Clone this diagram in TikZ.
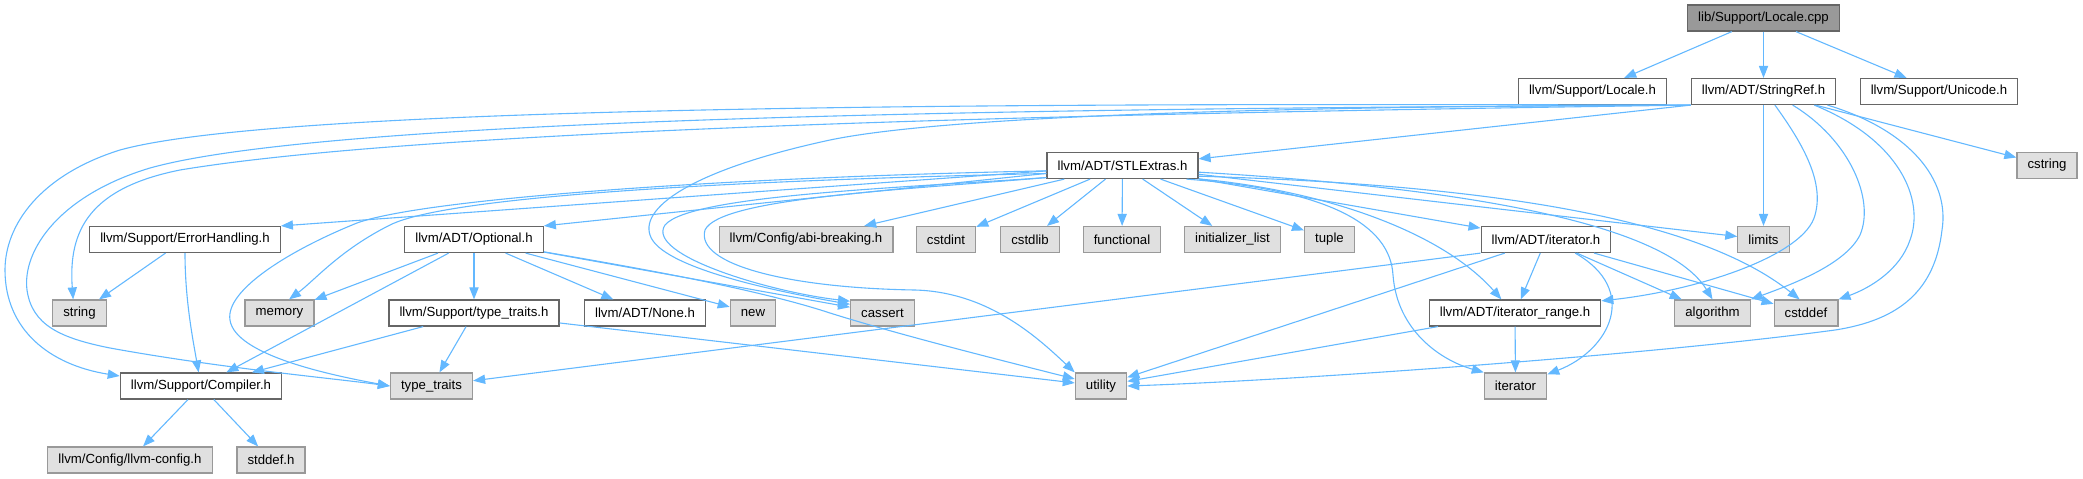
\documentclass[tikz,border=0pt]{standalone}
\usepackage{fontspec}
\setmainfont{Liberation Sans}
\usepackage{xcolor}
\usetikzlibrary{arrows.meta}
\definecolor{edgeblue}{RGB}{99, 184, 255}
\definecolor{rootgray}{RGB}{153, 153, 153}
\definecolor{sysfill}{RGB}{224, 224, 224}
\definecolor{sysborder}{RGB}{153, 153, 153}
\definecolor{hdrborder}{RGB}{102, 102, 102}

\begin{document}
\begin{tikzpicture}[x=0.5pt, y=-0.5pt, >={Triangle[length=6pt,width=4.6pt]},
  every node/.style={font=\fontsize{6.6}{7}\selectfont},
  filebox/.style={rectangle, draw=hdrborder, fill=white, line width=0.6pt, minimum height=13pt, inner xsep=5.3pt, inner ysep=0pt},
  sysbox/.style={filebox, draw=sysborder, fill=sysfill},
  rootbox/.style={filebox, fill=rootgray},
  dep/.style={->, edgeblue, line width=0.55pt}]

\useasboundingbox (0,0) rectangle (2083,478);

% Source file
\node[rootbox] (cpp) at (1763.5,18) {lib/Support/Locale.cpp};

% Direct includes
\node[filebox] (localeh) at (1592.5,91.5) {llvm/Support/Locale.h};
\node[filebox] (stringref) at (1763.5,91.5) {llvm/ADT/StringRef.h};
\node[filebox] (unicode) at (1939,91.5) {llvm/Support/Unicode.h};

% Second level
\node[filebox] (stlextras) at (1122.5,165.5) {llvm/ADT/STLExtras.h};
\node[sysbox] (cstring) at (2047,165.5) {cstring};

% Third level
\node[filebox] (errorhandling) at (185,239.5) {llvm/Support/ErrorHandling.h};
\node[filebox] (optional) at (474,239.5) {llvm/ADT/Optional.h};
\node[sysbox] (abibreaking) at (806,239.5) {llvm/Config/abi-breaking.h};
\node[sysbox] (cstdint) at (946,239.5) {cstdint};
\node[sysbox] (cstdlib) at (1030,239.5) {cstdlib};
\node[sysbox] (functional) at (1122,239.5) {functional};
\node[sysbox] (initlist) at (1232.5,239.5) {initializer\_list};
\node[sysbox] (tuple) at (1329.5,239.5) {tuple};
\node[filebox] (iteratorh) at (1546,239.5) {llvm/ADT/iterator.h};
\node[sysbox] (limits) at (1763.5,239.5) {limits};

% Fourth level
\node[sysbox] (string) at (79.5,313) {string};
\node[sysbox] (memory) at (279.5,313) {memory};
\node[filebox] (typetraitsh) at (474,313) {llvm/Support/type\_traits.h};
\node[filebox] (noneh) at (645,313) {llvm/ADT/None.h};
\node[sysbox] (new) at (753,313) {new};
\node[sysbox] (cassert) at (882.5,313) {cassert};
\node[filebox] (iterrange) at (1515,313) {llvm/ADT/iterator\_range.h};
\node[sysbox] (algorithm) at (1712.5,313) {algorithm};
\node[sysbox] (cstddef) at (1806,313) {cstddef};

% Fifth level
\node[filebox] (compiler) at (201,386) {llvm/Support/Compiler.h};
\node[sysbox] (typetraits) at (431.5,386) {type\_traits};
\node[sysbox] (utility) at (1101,386) {utility};
\node[sysbox] (iterator) at (1515.5,386) {iterator};

% Sixth level
\node[sysbox] (llvmconfig) at (130,460) {llvm/Config/llvm-config.h};
\node[sysbox] (stddef) at (271,460) {stddef.h};

% Locale.cpp includes
\foreach \dest in {localeh,stringref,unicode}
  \draw[dep] (cpp) -- (\dest);

% StringRef.h includes
\draw[dep] (stringref) -- (limits);
\draw[dep] (stringref) -- (cstring);
\draw[dep] (stringref.south west) -- (stlextras.5);
\draw[dep] (stringref.south west) .. controls (1200,104) and (300,100) .. (120,150) .. controls (40,175) and (5,225) .. (5,270) .. controls (5,330) and (50,365) .. (compiler.173);
\draw[dep] (stringref.south west) .. controls (1200,108) and (350,112) .. (150,168) .. controls (60,195) and (22,250) .. (27,290) .. controls (32,325) and (60,338) .. (110,348) .. controls (220,368) and (330,378) .. (typetraits.west);
\draw[dep] (stringref.south west) .. controls (1200,112) and (450,125) .. (180,170) .. controls (90,188) and (68,230) .. (string.115);
\draw[dep] (stringref.south west) .. controls (1300,106) and (950,115) .. (830,140) .. controls (700,168) and (640,205) .. (650,235) .. controls (660,268) and (780,292) .. (cassert.165);
\draw[dep] (stringref.310) .. controls (1800,140) and (1825,180) .. (1815,215) .. controls (1805,255) and (1700,290) .. (iterrange.8);
\draw[dep] (stringref.335) .. controls (1850,140) and (1875,200) .. (1860,235) .. controls (1845,265) and (1790,285) .. (algorithm.north east);
\draw[dep] (stringref.345) .. controls (1900,140) and (1925,200) .. (1910,240) .. controls (1900,270) and (1870,288) .. (cstddef.north east);
\draw[dep] (stringref.348) .. controls (1910,130) and (1950,180) .. (1942,230) .. controls (1935,290) and (1900,320) .. (1835,330) .. controls (1650,355) and (1300,380) .. (utility.east);

% STLExtras.h includes
\foreach \dest in {abibreaking,cstdint,cstdlib,functional,initlist,tuple,iteratorh,limits}
  \draw[dep] (stlextras) -- (\dest);
\draw[dep] (stlextras) -- (errorhandling.north east);
\draw[dep] (stlextras) -- (optional.north east);
\draw[dep] (stlextras.186) .. controls (750,180) and (450,195) .. (390,225) .. controls (340,250) and (315,280) .. (memory.55);
\draw[dep] (stlextras.184) .. controls (700,178) and (420,200) .. (357,223) .. controls (290,250) and (225,290) .. (230,320) .. controls (235,355) and (330,375) .. (typetraits.west);
\draw[dep] (stlextras.189) .. controls (900,188) and (690,195) .. (665,225) .. controls (645,255) and (770,292) .. (cassert.160);
\draw[dep] (stlextras.189) .. controls (900,190) and (720,198) .. (705,230) .. controls (695,265) and (790,288) .. (915,290) .. controls (990,292) and (1040,340) .. (utility.north west);
\draw[dep] (stlextras.355) .. controls (1500,190) and (1670,230) .. (algorithm.north);
\draw[dep] (stlextras.352) .. controls (1500,185) and (1700,220) .. (cstddef.115);
\draw[dep] (stlextras.350) .. controls (1320,190) and (1440,230) .. (iterrange.135);
\draw[dep] (stlextras.348) .. controls (1330,190) and (1390,225) .. (1393,275) .. controls (1397,330) and (1440,360) .. (iterator.north west);

% Optional.h includes
\foreach \dest in {memory,compiler,typetraitsh,noneh,new,cassert}
  \draw[dep] (optional) -- (\dest);
\draw[dep] (optional.350) .. controls (650,270) and (760,290) .. (830,313) .. controls (900,335) and (1000,360) .. (utility.165);

% type_traits.h includes
\foreach \dest in {compiler,typetraits,utility}
  \draw[dep] (typetraitsh) -- (\dest);

% ErrorHandling.h includes
\draw[dep] (errorhandling) -- (string);
\draw[dep] (errorhandling.south) .. controls (185,300) and (193,340) .. (compiler.100);

% Compiler.h includes
\draw[dep] (compiler) -- (llvmconfig);
\draw[dep] (compiler) -- (stddef);

% iterator.h includes
\foreach \dest in {iterrange,algorithm,cstddef,utility}
  \draw[dep] (iteratorh) -- (\dest);
\draw[dep] (iteratorh.south west) -- (typetraits);
\draw[dep] (iteratorh.335) .. controls (1640,290) and (1610,350) .. (iterator.20);

% iterator_range.h includes
\draw[dep] (iterrange) -- (iterator);
\draw[dep] (iterrange) -- (utility);

\end{tikzpicture}
\end{document}
